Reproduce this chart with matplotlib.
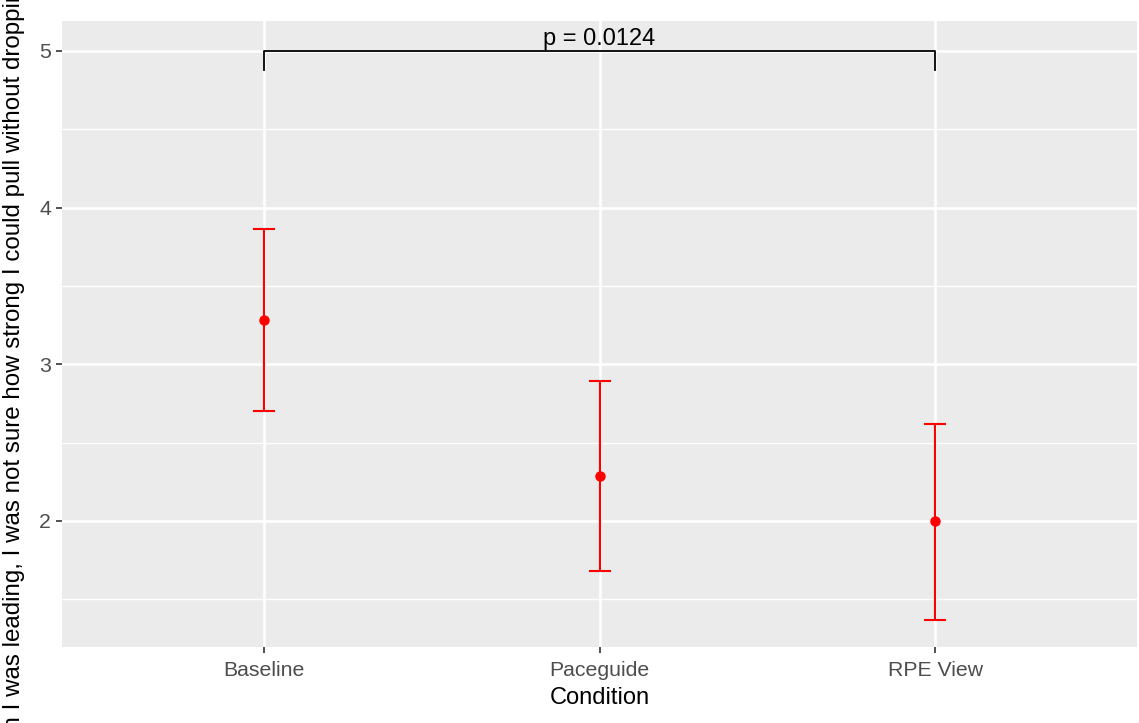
import matplotlib
matplotlib.use("Agg")
import matplotlib.pyplot as plt
from matplotlib.ticker import FixedLocator

plt.rcParams['font.family'] = ['Liberation Sans', 'DejaVu Sans']

conditions = ["Baseline", "Paceguide", "RPE View"]
means = [3.28, 2.29, 2.00]
lower = [2.70, 1.68, 1.37]
upper = [3.86, 2.89, 2.62]
p_label = "p = 0.0124"
bracket_y = 5.0
bracket_tip = 4.88
ylabel = "When I was leading, I was not sure how strong I could pull without dropping others"
xlabel = "Condition"

fig = plt.figure(figsize=(11.39, 7.23), dpi=100)
ax = fig.add_axes([62/1139, 1-647/723, (1137-62)/1139, (647-21)/723])
ax.set_facecolor("#EBEBEB")

x = list(range(1, len(conditions) + 1))
ax.set_xlim(0.4, 3.6)
ax.set_ylim(1.196, 5.19)

ax.yaxis.set_major_locator(FixedLocator([2, 3, 4, 5]))
ax.yaxis.set_minor_locator(FixedLocator([1.5, 2.5, 3.5, 4.5]))
ax.xaxis.set_major_locator(FixedLocator(x))
ax.set_xticklabels(conditions)

ax.grid(which='major', color='white', linewidth=1.9)
ax.grid(which='minor', axis='y', color='white', linewidth=1.0)
ax.set_axisbelow(True)
for s in ax.spines.values():
    s.set_visible(False)

ax.tick_params(axis='both', which='major', length=4, width=1.2, color='#333333',
               labelcolor='#4D4D4D', labelsize=15.3, pad=4)
ax.tick_params(axis='x', which='major', pad=6)
ax.tick_params(axis='both', which='minor', length=0)

yerr = [[m - l for m, l in zip(means, lower)], [u - m for u, m in zip(upper, means)]]
ax.errorbar(x, means, yerr=yerr, fmt='o', color='red', ecolor='red',
            elinewidth=1.5, capsize=8, capthick=1.5, markersize=6.5, zorder=3)

# significance bracket
ax.plot([x[0], x[0], x[2], x[2]], [bracket_tip, bracket_y, bracket_y, bracket_tip],
        color='black', linewidth=1.3, zorder=3)
ax.text((x[0] + x[2]) / 2, bracket_y + 0.005, p_label, ha='center', va='bottom',
        fontsize=17, color='black')

ax.set_xlabel(xlabel, fontsize=17, color='black', labelpad=5)
ax.set_ylabel(ylabel, fontsize=17.4, color='black')
ax.yaxis.set_label_coords((25 - 62) / 1075, 0.5 - 6 / 626)

fig.savefig("out.png", dpi=100, facecolor='white')
